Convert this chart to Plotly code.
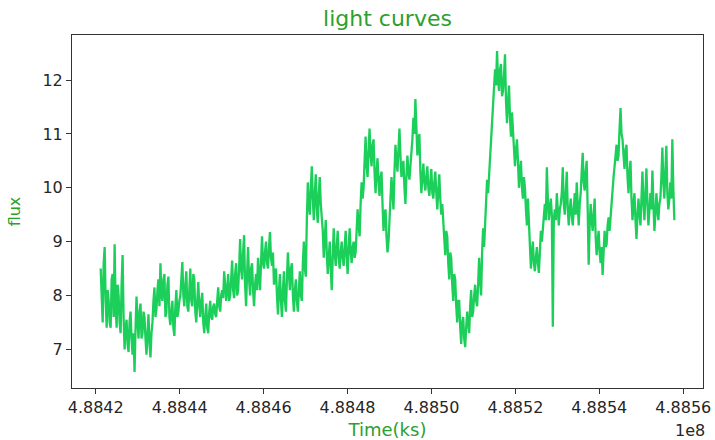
import plotly.graph_objects as go

# Binned light curve: start time, bin width (s) and flux per bin
t_start = 488421190.0
t_bin = 237.3
flux = [
    8.5, 7.8, 7.5, 8.6, 8.9, 7.9, 7.4, 8.1, 7.9, 7.5, 7.4, 8.3, 8.4, 7.6, 8.95, 7.8, 7.4, 8.2, 8.0, 7.5,
    7.3, 8.2, 8.75, 7.6, 7.0, 7.4, 7.55, 7.1, 6.95, 7.5, 7.7, 7.2, 6.9, 7.3, 6.58, 7.4, 7.98, 7.5, 7.2, 7.7,
    7.85, 7.2, 7.3, 7.7, 7.6, 7.2, 6.9, 7.3, 7.65, 7.1, 6.85, 7.3, 7.5, 7.9, 8.15, 7.6, 7.75, 8.1, 8.3, 7.8,
    8.6, 8.0, 7.9, 8.3, 8.4, 7.6, 7.7, 8.2, 8.35, 7.6, 7.45, 7.7, 7.9, 7.4, 7.25, 7.8, 8.1, 7.6, 7.7, 7.9,
    8.0, 8.3, 8.62, 8.0, 7.8, 8.2, 8.45, 7.8, 7.7, 8.1, 8.5, 7.9, 7.8, 8.4, 8.3, 7.7, 7.5, 7.9, 8.25, 7.8,
    7.6, 7.9, 8.05, 7.5, 7.3, 7.6, 7.85, 7.4, 7.3, 7.7, 7.9, 7.6, 7.55, 7.8, 7.85, 7.65, 7.6, 7.9, 8.15, 7.8,
    7.7, 8.0, 8.1, 7.95, 8.45, 8.2, 7.9, 8.1, 8.4, 7.9, 8.0, 8.3, 8.65, 8.1, 7.95, 8.4, 8.6, 8.0, 8.1, 8.5,
    9.05, 8.5, 8.3, 8.8, 9.12, 8.2, 7.8, 8.4, 8.9, 8.3, 8.0, 8.5, 8.6, 8.1, 7.8, 8.2, 8.4, 8.1, 8.7, 8.4,
    8.1, 8.6, 9.1, 8.6, 8.5, 8.8, 9.0, 8.6, 8.5, 8.9, 9.18, 8.7, 8.55, 8.8, 8.2, 8.4, 8.5, 8.0, 7.65, 8.1,
    8.4, 7.9, 7.6, 8.1, 8.45, 7.9, 7.7, 8.3, 8.8, 8.4, 8.1, 8.5, 8.6, 8.0, 7.7, 8.1, 8.3, 7.9, 7.7, 8.1,
    8.45, 8.0, 7.9, 8.6, 9.0, 8.5, 8.35, 9.4, 10.1, 9.7, 9.5, 10.0, 10.4, 9.8, 9.4, 9.9, 10.25, 9.6, 9.35, 9.9,
    10.2, 9.7, 9.45, 9.2, 8.7, 9.0, 9.4, 8.8, 8.4, 8.7, 9.0, 8.5, 8.1, 8.7, 9.25, 8.8, 8.55, 8.9, 9.2, 8.7,
    8.5, 8.8, 9.0, 8.7, 8.55, 8.9, 9.2, 8.7, 8.4, 8.9, 9.25, 8.8, 8.6, 8.9, 9.0, 8.7, 8.8, 9.2, 9.6, 9.3,
    9.1, 9.7, 10.1, 9.8, 10.0, 10.5, 10.95, 10.4, 10.2, 10.7, 11.1, 10.6, 10.4, 10.8, 10.9, 10.3, 9.9, 10.3, 10.55, 10.1,
    9.85, 10.2, 10.3, 9.7, 9.2, 9.5, 9.6, 9.1, 8.8, 9.0, 9.3, 9.8, 10.2, 9.9, 9.6, 10.3, 10.8, 10.5, 10.3, 10.7,
    11.1, 10.6, 10.2, 10.4, 10.5, 10.0, 9.7, 10.2, 10.6, 10.3, 10.15, 10.4, 10.6, 10.9, 11.3, 11.0, 11.65, 11.1, 10.6, 10.9,
    11.0, 10.3, 9.9, 10.2, 10.45, 10.1, 9.95, 10.2, 10.4, 10.0, 9.85, 10.1, 10.35, 9.9, 9.8, 10.1, 10.3, 9.9, 9.6, 9.95,
    10.25, 9.8, 9.5, 9.7, 9.4, 9.0, 8.75, 9.2, 9.1, 8.6, 8.3, 8.8, 8.7, 8.2, 7.9, 8.4, 8.3, 7.8, 7.5, 7.9,
    7.9, 7.4, 7.1, 7.5, 7.6, 7.2, 7.04, 7.4, 7.7, 7.5, 7.3, 7.8, 8.1, 7.6, 7.7, 8.0, 8.2, 7.9, 7.8, 8.2,
    8.7, 8.3, 8.0, 8.8, 9.25, 8.9, 9.3, 9.8, 10.15, 9.9, 10.2, 10.6, 11.0, 11.3, 11.5, 11.9, 12.2, 11.9, 12.54, 12.0,
    11.8, 12.2, 12.3, 11.7, 11.8, 12.1, 12.48, 11.6, 11.2, 11.6, 11.9, 11.3, 10.95, 11.4, 11.0, 10.7, 10.4, 10.7, 10.9, 10.5,
    10.0, 10.3, 10.5, 10.0, 9.8, 10.2, 10.0, 9.6, 9.3, 9.8, 9.35, 8.9, 8.5, 8.8, 9.0, 8.6, 8.45, 8.7, 8.9, 8.6,
    8.42, 8.8, 9.2, 9.0, 9.3, 9.5, 9.7, 9.4, 10.38, 9.8, 9.4, 9.6, 9.8, 9.5, 7.42, 9.4, 9.6, 9.4, 9.9, 9.6,
    9.3, 9.6, 9.7, 9.9, 10.38, 9.7, 9.5, 9.9, 10.3, 9.6, 9.3, 9.6, 9.8, 9.5, 9.3, 9.6, 9.9, 9.5, 10.1, 9.7,
    9.3, 9.7, 9.9, 10.3, 10.65, 10.1, 9.95, 10.3, 10.5, 9.6, 8.57, 9.3, 9.7, 9.4, 9.2, 9.5, 9.8, 9.1, 8.75, 9.0,
    9.2, 8.8, 8.6, 8.9, 8.38, 8.8, 9.2, 8.9, 8.95, 9.3, 9.45, 9.2, 9.5, 9.8, 10.0, 10.2, 10.4, 10.6, 10.8, 10.5,
    10.6, 11.1, 11.48, 11.0, 10.9, 10.6, 10.35, 10.7, 10.8, 10.2, 9.9, 10.3, 10.5, 9.8, 9.4, 9.7, 9.9, 9.4, 9.05, 9.5,
    9.8, 9.5, 9.3, 9.8, 10.3, 9.7, 9.4, 9.9, 10.36, 9.7, 9.3, 9.6, 9.9, 9.6, 10.32, 9.7, 9.2, 9.5, 9.9, 9.6,
    9.4, 9.7, 9.8, 10.2, 10.75, 10.1, 9.8, 10.3, 10.78, 9.9, 9.6, 9.8, 10.1, 9.8, 10.9, 10.0, 9.4,
]
time = [t_start + i * t_bin for i in range(len(flux))]

# Axis ticks
x_tick_vals = [488420000, 488440000, 488460000, 488480000,
               488500000, 488520000, 488540000, 488560000]
x_tick_text = ["4.8842", "4.8844", "4.8846", "4.8848",
               "4.8850", "4.8852", "4.8854", "4.8856"]
y_tick_vals = [7, 8, 9, 10, 11, 12]

line_green = "#1ccf5a"
label_green = "#2ca02c"
axis_grey = "#333333"
font_family = "DejaVu Sans"

fig = go.Figure()
fig.add_trace(go.Scatter(
    x=time, y=flux, mode="lines",
    line=dict(color=line_green, width=2.3),
    showlegend=False,
))

# 5% padding around the data on both axes
t_span = time[-1] - time[0]
f_span = max(flux) - min(flux)
x_range = [time[0] - 0.05 * t_span, time[-1] + 0.05 * t_span]
y_range = [min(flux) - 0.05 * f_span, max(flux) + 0.05 * f_span]

axis_common = dict(
    showline=True, linecolor=axis_grey, linewidth=1, mirror=True,
    ticks="outside", ticklen=5, tickwidth=1, tickcolor=axis_grey,
    showgrid=False, zeroline=False, automargin=False,
    tickfont=dict(family=font_family, size=16, color="#262626"),
)

fig.update_layout(
    width=715, height=440,
    margin=dict(l=72, r=12, t=35, b=52),
    paper_bgcolor="white", plot_bgcolor="white",
    font=dict(family=font_family),
    title=dict(
        text="light curves",
        font=dict(family=font_family, size=22, color=label_green),
        x=0.5, xref="paper", xanchor="center",
        y=1 - 18 / 440, yref="container", yanchor="middle",
    ),
    xaxis=dict(
        range=x_range, tickvals=x_tick_vals, ticktext=x_tick_text,
        title=dict(text="Time(ks)", standoff=8,
                   font=dict(family=font_family, size=18, color=label_green)),
        **axis_common,
    ),
    yaxis=dict(
        range=y_range, tickvals=y_tick_vals,
        title=dict(text="flux", standoff=17,
                   font=dict(family=font_family, size=16, color=label_green)),
        **axis_common,
    ),
    annotations=[dict(
        text="1e8", xref="paper", yref="paper", x=1.0, y=0,
        xanchor="right", yanchor="top", xshift=4, yshift=-31,
        showarrow=False,
        font=dict(family=font_family, size=16, color="#262626"),
    )],
)

fig.write_html("out.html")
